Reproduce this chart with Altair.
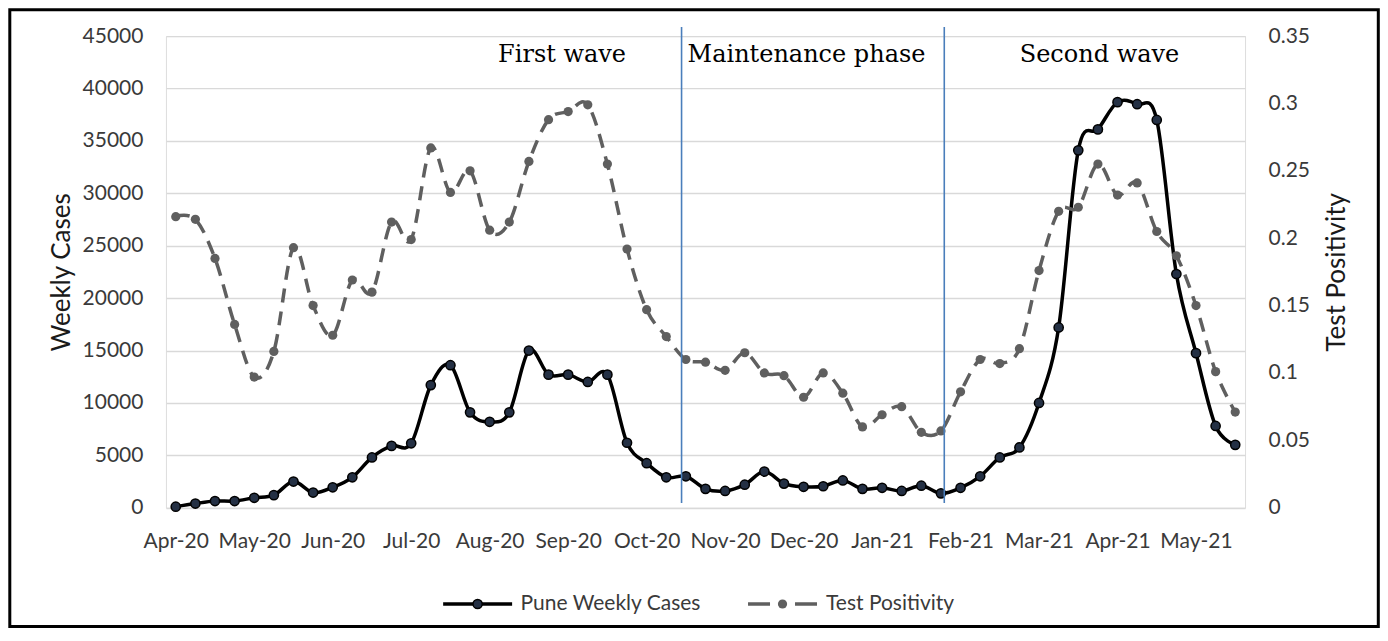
import json
import altair as alt
import pandas as pd

# ---------------- data ----------------
months = ["Apr-20", "May-20", "Jun-20", "Jul-20", "Aug-20", "Sep-20", "Oct-20",
          "Nov-20", "Dec-20", "Jan-21", "Feb-21", "Mar-21", "Apr-21", "May-21"]

weekly_cases = [100, 400, 640, 640, 950, 1200, 2500, 1450, 1950, 2900, 4800, 5900, 6150, 11700, 13600,
                9100, 8200, 9100, 15000, 12700, 12700, 12000, 12700, 6200, 4250, 2900, 3000, 1800, 1600, 2200,
                3450, 2300, 2000, 2050, 2600, 1800, 1900, 1600, 2100, 1370, 1900, 3000, 4800, 5750, 10000,
                17200, 34100, 36100, 38700, 38500, 37000, 22300, 14750, 7800, 6000]

test_positivity = [0.216, 0.214, 0.185, 0.136, 0.097, 0.116, 0.193, 0.150, 0.128, 0.169, 0.160, 0.212, 0.199, 0.267, 0.234,
                   0.250, 0.206, 0.212, 0.257, 0.288, 0.294, 0.299, 0.255, 0.192, 0.147, 0.127, 0.110, 0.108, 0.102, 0.115,
                   0.100, 0.098, 0.082, 0.100, 0.085, 0.060, 0.069, 0.075, 0.056, 0.057, 0.086, 0.110, 0.107, 0.118, 0.176,
                   0.220, 0.223, 0.255, 0.232, 0.241, 0.205, 0.187, 0.150, 0.101, 0.071]

phase_names = ["First wave", "Maintenance phase", "Second wave"]
phase_label_week = [19.69, 32.15, 47.08]
phase_boundary_week = [25.78, 39.17]

series_names = ["Pune Weekly Cases", "Test Positivity"]
left_ticks = list(range(0, 45001, 5000))
right_ticks = [0, 0.05, 0.1, 0.15, 0.2, 0.25, 0.3, 0.35]

# ---------------- layout / style ----------------
W, H = 1079.5, 471.8
FONT = "Lato"
LABEL_COLOR = "#3a3a3a"
CASES_COLOR = "#000000"
TP_COLOR = "#5f5f5f"

df = pd.DataFrame({"week": list(range(len(weekly_cases))),
                   "cases": weekly_cases,
                   "tp": test_positivity})
df_bound = pd.DataFrame({"week": phase_boundary_week})
df_phase = pd.DataFrame({"week": phase_label_week, "name": phase_names})
one = pd.DataFrame({"k": [0]})

label_expr = json.dumps(months) + "[round(datum.value / 4)]"

x_enc = alt.X(
    "week:Q",
    scale=alt.Scale(domain=[-0.5, len(weekly_cases) - 0.5], nice=False, zero=False),
    axis=alt.Axis(values=list(range(0, 4 * len(months), 4)), labelExpr=label_expr,
                  grid=False, ticks=False, tickSize=0, domain=False, title=None,
                  labelFont=FONT, labelFontSize=21, labelColor=LABEL_COLOR,
                  labelPadding=40, labelBaseline="alphabetic",
                  labelFlush=False, labelOverlap=False),
)

y_cases = alt.Y(
    "cases:Q",
    scale=alt.Scale(domain=[0, 45000], nice=False),
    axis=alt.Axis(orient="left", values=left_ticks, format="d",
                  grid=True, gridColor="#d9d9d9", gridWidth=1.4,
                  ticks=False, tickSize=0, domain=False,
                  labelFont=FONT, labelFontSize=21, labelColor=LABEL_COLOR, labelPadding=23,
                  title="Weekly Cases", titleFont=FONT, titleFontSize=26,
                  titleFontWeight="normal", titleColor="#1a1a1a",
                  titleAngle=270, titleX=-104, titleY=H / 2,
                  titleAlign="center", titleBaseline="middle"),
)

y_tp = alt.Y(
    "tp:Q",
    scale=alt.Scale(domain=[0, 0.35], nice=False),
    axis=alt.Axis(orient="right", values=right_ticks, format=".2~f",
                  grid=False, ticks=False, tickSize=0, domain=False,
                  labelFont=FONT, labelFontSize=21, labelColor=LABEL_COLOR, labelPadding=23,
                  title="Test Positivity", titleFont=FONT, titleFontSize=26,
                  titleFontWeight="normal", titleColor="#1a1a1a",
                  titleAngle=270, titleX=91, titleY=H / 2,
                  titleAlign="center", titleBaseline="middle"),
)

cases_line = alt.Chart(df).mark_line(color=CASES_COLOR, strokeWidth=3.5,
                                     interpolate="cardinal").encode(x=x_enc, y=y_cases)
cases_pts = alt.Chart(df).mark_circle(size=85, color="#243044", stroke="#000000",
                                      strokeWidth=1.5, opacity=1).encode(x=x_enc, y=y_cases)
cases_layer = alt.layer(cases_line, cases_pts)

tp_line = alt.Chart(df).mark_line(color=TP_COLOR, strokeWidth=3.5, strokeDash=[14, 9],
                                  interpolate="cardinal").encode(x=x_enc, y=y_tp)
tp_pts = alt.Chart(df).mark_circle(size=85, color=TP_COLOR, opacity=1).encode(x=x_enc, y=y_tp)
tp_layer = alt.layer(tp_line, tp_pts)

bounds = alt.Chart(df_bound).mark_rule(color="#4a7ebb", strokeWidth=1.6).encode(
    x=x_enc, y=alt.value(-9), y2=alt.value(467))

phase_text = alt.Chart(df_phase).mark_text(
    font="DejaVu Serif", fontSize=24, baseline="alphabetic", align="center", color="#000000"
).encode(x=x_enc, y=alt.value(26.1), text="name:N")

# ---------------- legend (drawn below the plot) ----------------
LY = 568.1
leg_line1 = alt.Chart(one).mark_rule(color=CASES_COLOR, strokeWidth=3.5).encode(
    x=alt.value(277.3), x2=alt.value(346.3), y=alt.value(LY))
leg_pt1 = alt.Chart(one).mark_circle(size=85, color="#243044", stroke="#000000",
                                     strokeWidth=1.5, opacity=1).encode(
    x=alt.value(311.8), y=alt.value(LY))
leg_txt1 = alt.Chart(one).mark_text(align="left", baseline="middle", font=FONT,
                                    fontSize=21, color=LABEL_COLOR).encode(
    x=alt.value(354.8), y=alt.value(LY), text=alt.value(series_names[0]))
leg_line2 = alt.Chart(one).mark_rule(color=TP_COLOR, strokeWidth=3.5, strokeDash=[22, 25]).encode(
    x=alt.value(582.3), x2=alt.value(651.3), y=alt.value(LY))
leg_pt2 = alt.Chart(one).mark_circle(size=85, color=TP_COLOR, opacity=1).encode(
    x=alt.value(616.8), y=alt.value(LY))
leg_txt2 = alt.Chart(one).mark_text(align="left", baseline="middle", font=FONT,
                                    fontSize=21, color=LABEL_COLOR).encode(
    x=alt.value(660.3), y=alt.value(LY), text=alt.value(series_names[1]))

# ---------------- outer frame ----------------
frame = alt.Chart(one).mark_rect(fill="#ffffff", fillOpacity=0, stroke="#000000",
                                 strokeWidth=3).encode(
    x=alt.value(-156.2), x2=alt.value(1212.8), y=alt.value(-26.4), y2=alt.value(590.6))

chart = alt.layer(
    cases_layer, tp_layer, bounds, phase_text,
    leg_line1, leg_pt1, leg_txt1, leg_line2, leg_pt2, leg_txt2, frame
).resolve_scale(y="independent").properties(
    width=W, height=H, padding=0
).configure_view(strokeWidth=0).configure(font=FONT)

chart.save("out.html", embed_options={"renderer": "svg", "actions": False})
